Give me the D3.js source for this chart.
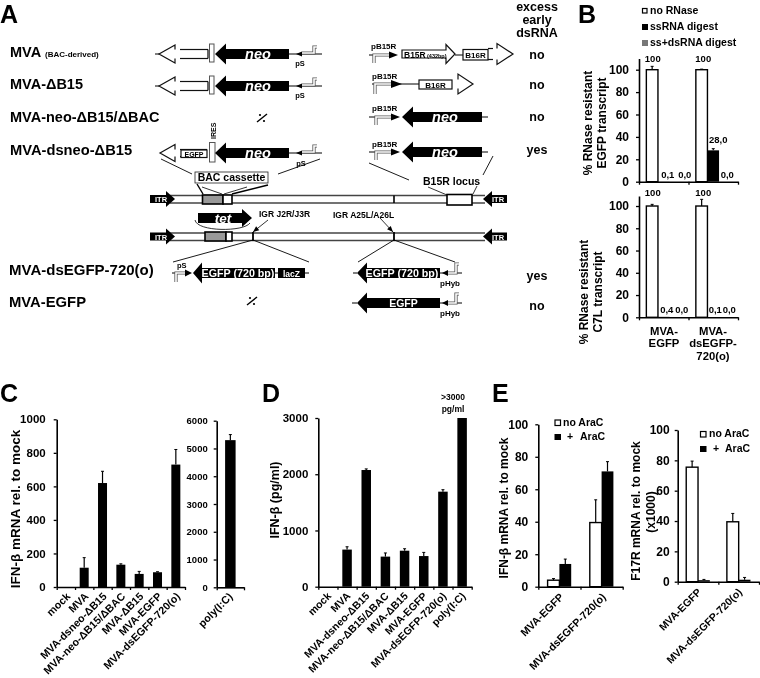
<!DOCTYPE html>
<html>
<head>
<meta charset="utf-8">
<script src="https://cdn.jsdelivr.net/npm/d3@7/dist/d3.min.js"></script>
<style>
body { margin: 0; background: #fff; }
svg { display: block; font-family: "Liberation Sans", Arial, sans-serif; font-weight: bold; filter: blur(0.3px); }
</style>
</head>
<body>
<svg id="fig" width="760" height="678"></svg>
<script>
// panel B
var transcriptGroups = ['MVA-EGFP', 'MVA-dsEGFP-720(o)'];
var egfpNoRNase = [100, 100];
var egfpNoRNaseErr = [3, 0.5];
var egfpSsDigest = [0.1, 28];
var egfpSsDigestErr = [0, 1.5];
var egfpDsDigest = [0, 0];
var egfpLabels = [['100', '0,1', '0,0'], ['100', '28,0', '0,0']];
var c7lNoRNase = [100, 100];
var c7lNoRNaseErr = [1.5, 6];
var c7lSsDigest = [0.4, 0.1];
var c7lDsDigest = [0, 0];
var c7lLabels = [['100', '0,4', '0,0'], ['100', '0,1', '0,0']];
var percentTicks = [0, 20, 40, 60, 80, 100];

// panel C
var virusC = ['mock', 'MVA', 'MVA-dsneo-ΔB15', 'MVA-neo-ΔB15/ΔBAC', 'MVA-ΔB15', 'MVA-EGFP', 'MVA-dsEGFP-720(o)'];
var ifnMrna = [0, 115, 620, 133, 78, 88, 730];
var ifnMrnaErr = [0, 60, 70, 5, 15, 3, 90];
var ifnMrnaTicks = [0, 200, 400, 600, 800, 1000];
var polyCat = ['poly(I:C)'];
var polyMrna = [5300];
var polyMrnaErr = [200];
var polyTicks = [0, 1000, 2000, 3000, 4000, 5000, 6000];

// panel D
var virusD = ['mock', 'MVA', 'MVA-dsneo-ΔB15', 'MVA-neo-ΔB15/ΔBAC', 'MVA-ΔB15', 'MVA-EGFP', 'MVA-dsEGFP-720(o)', 'poly(I:C)'];
var ifnProtein = [0, 660, 2075, 535, 640, 545, 1690, 3000];
var ifnProteinErr = [0, 50, 20, 65, 35, 65, 35, 0];
var ifnProteinTicks = [0, 1000, 2000, 3000];

// panel E
var ifnNoAraC = [4, 39.5];
var ifnNoAraCErr = [1, 14];
var ifnAraC = [14, 71];
var ifnAraCErr = [3, 6];
var f17NoAraC = [75.5, 39.5];
var f17NoAraCErr = [4, 5.5];
var f17AraC = [1, 1.3];
var f17AraCErr = [0.5, 1.5];

var svg = d3.select('#fig');

function label(x, y, str, size, opts)
{
	opts = opts || {};
	return svg.append('text')
		.attr('x', x)
		.attr('y', y)
		.attr('font-size', size)
		.attr('text-anchor', opts.anchor || 'start')
		.attr('fill', opts.fill || '#000')
		.attr('font-style', opts.italic ? 'italic' : null)
		.text(str);
}

function vlabel(x, y, str, size)
{
	svg.append('text')
		.attr('transform', 'translate(' + x + ',' + y + ') rotate(-90)')
		.attr('font-size', size)
		.attr('text-anchor', 'middle')
		.text(str);
}

function line(x1, y1, x2, y2, width, colour)
{
	svg.append('line')
		.attr('x1', x1).attr('y1', y1)
		.attr('x2', x2).attr('y2', y2)
		.attr('stroke', colour || '#000')
		.attr('stroke-width', width || 1);
}

function box(x1, y1, x2, y2, fill, stroke, width)
{
	svg.append('rect')
		.attr('x', x1).attr('y', y1)
		.attr('width', x2 - x1).attr('height', y2 - y1)
		.attr('fill', fill)
		.attr('stroke', stroke || 'none')
		.attr('stroke-width', width || 1);
}

// block arrow: tip at x tip, head base at base, tail end at tail
function blockArrow(tip, base, tail, y, bodyH, headH, fill, stroke)
{
	var pts = [[tip, y], [base, y - headH / 2], [base, y - bodyH / 2], [tail, y - bodyH / 2],
		[tail, y + bodyH / 2], [base, y + bodyH / 2], [base, y + headH / 2]];
	svg.append('path')
		.attr('d', d3.line()(pts) + 'Z')
		.attr('fill', fill)
		.attr('stroke', stroke || 'none')
		.attr('stroke-width', 1.2);
}

// white arrow with its body cut open near the head
function openArrow(tip, base, gap, tail, y, bodyH, headH)
{
	var upper = [[gap, y - bodyH / 2], [tail, y - bodyH / 2]];
	var lower = [[gap, y + bodyH / 2], [tail, y + bodyH / 2]];
	var head = [[base, y - bodyH / 2], [base, y - headH / 2], [tip, y], [base, y + headH / 2], [base, y + bodyH / 2]];
	[upper, lower, head].forEach(pts => {
		svg.append('path').attr('d', d3.line()(pts))
			.attr('fill', 'none').attr('stroke', '#111').attr('stroke-width', 1.2);
	});
}

// bent gray promoter arrow
function promoter(pts)
{
	svg.append('path').attr('d', d3.line()(pts)).attr('fill', 'none').attr('stroke', '#555').attr('stroke-width', 3.2);
	svg.append('path').attr('d', d3.line()(pts)).attr('fill', 'none').attr('stroke', '#fff').attr('stroke-width', 1.6);
}

function triangle(tip, base, y, h)
{
	svg.append('path')
		.attr('d', d3.line()([[tip, y], [base, y - h / 2], [base, y + h / 2]]) + 'Z')
		.attr('fill', '#000');
}

function noConstruct(x, y)
{
	line(x - 5, y + 4, x + 5, y - 4, 1.4);
	svg.append('circle').attr('cx', x - 2).attr('cy', y - 3).attr('r', 1.1);
	svg.append('circle').attr('cx', x + 2).attr('cy', y + 3).attr('r', 1.1);
}

function pointer(x1, y1, x2, y2)
{
	var a = Math.atan2(y2 - y1, x2 - x1);
	line(x1, y1, x2, y2, 0.8);
	var b = [x2 - 6 * Math.cos(a), y2 - 6 * Math.sin(a)];
	var n = [-2.5 * Math.sin(a), 2.5 * Math.cos(a)];
	svg.append('path')
		.attr('d', d3.line()([[x2, y2], [b[0] + n[0], b[1] + n[1]], [b[0] - n[0], b[1] - n[1]]]) + 'Z');
}

function neoLeft(y)
{
	blockArrow(215, 226, 289, y, 10, 21, '#000');
	label(258, y + 5, 'neo', 14.5, {anchor: 'middle', fill: '#fff', italic: true});
	line(289, y, 322, y, 1);
	promoter([[302, y - 1], [314, y - 1], [314, y - 7], [317, y - 7]]);
	triangle(296, 302, y, 5);
}

function oldGene(y)
{
	openArrow(159, 175, 180, 208, y, 9, 18);
	line(208, y - 4.5, 208, y + 4.5, 1.2);
	box(209.5, y - 10, 214, y + 8, '#fff', '#555', 1);
	line(155, y, 159, y, 1);
	neoLeft(y);
}

function neoRight(y)
{
	line(369, y, 391, y, 1);
	promoter([[376, y + 8], [376, y], [391, y]]);
	triangle(400, 391, y, 7);
	blockArrow(402, 413, 482, y, 10, 21, '#000');
	label(445, y + 5, 'neo', 14.5, {anchor: 'middle', fill: '#fff', italic: true});
	line(482, y, 488, y, 1);
}

function itrLeft(y)
{
	blockArrow(175, 166, 150, y, 8, 16, '#000');
	label(155, y + 3, 'ITR', 7.5, {fill: '#fff'});
}

function itrRight(y)
{
	blockArrow(483, 492, 507, y, 8, 16, '#000');
	label(492, y + 3, 'ITR', 7.5, {fill: '#fff'});
}

function hybrid(y)
{
	line(440, y, 462, y, 1);
	promoter([[447, y], [456, y], [456, y - 9], [459, y - 9]]);
	triangle(442, 448, y, 6);
}

function schematic()
{
	label(0, 23, 'A', 25);

	// row labels
	label(10, 57, 'MVA', 14.5);
	label(45, 57, '(BAC-derived)', 8);
	label(10, 89, 'MVA-ΔB15', 14.5);
	label(10, 122, 'MVA-neo-ΔB15/ΔBAC', 14.5);
	label(10, 155, 'MVA-dsneo-ΔB15', 14.7);
	label(9, 275, 'MVA-dsEGFP-720(o)', 15);
	label(9, 307, 'MVA-EGFP', 14.8);

	// excess column
	[['excess', 11], ['early', 24], ['dsRNA', 37], ['no', 59], ['no', 89], ['no', 121], ['yes', 154], ['yes', 280], ['no', 310]]
		.forEach(d => label(537, d[1], d[0], 12.5, {anchor: 'middle'}));

	// left constructs
	oldGene(54);
	label(300, 66, 'pS', 7.5, {anchor: 'middle'});
	oldGene(86);
	label(300, 98, 'pS', 7.5, {anchor: 'middle'});
	noConstruct(262, 118);

	openArrow(160, 175, 180, 207, 153, 7, 17);
	box(181, 150, 207, 157.5, '#fff', '#111', 1.2);
	label(194, 156.5, 'EGFP', 7, {anchor: 'middle'});
	box(209.5, 142.5, 215, 162, '#fff', '#555', 1);
	neoLeft(153);
	label(301, 166, 'pS', 7.5, {anchor: 'middle'});
	svg.append('text').attr('transform', 'translate(216,139) rotate(-90)').attr('font-size', 7).text('IRES');

	// right constructs
	line(369, 55, 389, 55, 1);
	label(371, 49, 'pB15R', 8);
	promoter([[374, 63], [374, 55], [389, 55]]);
	triangle(398, 389, 55, 7);
	blockArrow(455, 446, 402, 54, 8, 19, '#fff', '#111');
	label(404, 58, 'B15R', 8.5);
	label(427, 58, '(432bp)', 5.5);
	line(455, 55, 463, 55, 1);
	box(463, 49.5, 488, 60, '#fff', '#111', 1.2);
	label(475.5, 58, 'B16R', 8, {anchor: 'middle'});
	openArrow(513, 497, 493, 488, 54, 11, 21);

	line(372, 84, 419, 84, 1);
	label(372, 79, 'pB15R', 8);
	promoter([[375, 94], [375, 84], [391, 84]]);
	triangle(402, 391, 84, 8);
	box(419, 80, 452, 89, '#fff', '#111', 1.2);
	label(435.5, 88, 'B16R', 8, {anchor: 'middle'});
	openArrow(473, 458, 452, 452, 84, 9, 20);

	label(372, 111, 'pB15R', 8);
	neoRight(117);
	label(372, 147, 'pB15R', 8);
	neoRight(152);

	// cassette and locus call-outs
	line(161, 159, 192, 174, 0.9);
	line(320, 159, 278, 174, 0.9);
	line(369, 163, 409, 180, 0.9);
	line(493, 156, 483, 175, 0.9);
	line(197, 184, 203, 194, 1.4);
	line(202, 187, 222, 194, 0.8);
	line(247, 187, 224, 194, 0.8);
	line(268, 185, 232, 194, 1.6);
	line(428, 187, 447, 195, 0.8);
	line(473, 194, 477, 186, 0.8);
	box(195, 172, 268, 183, '#fff', '#222', 0.8);
	label(231.5, 181, 'BAC cassette', 10.5, {anchor: 'middle'});
	label(423, 185, 'B15R locus', 10.5);

	// genome, top
	[195.5, 203].forEach(y => line(170, y, 485, y, 1.4, '#444'));
	box(202.5, 195, 223, 204, '#999', '#000', 1.6);
	box(223, 195, 232, 204, '#fff', '#000', 1.6);
	line(394, 195.5, 394, 203, 1.6);
	box(447, 194.5, 472, 205, '#fff', '#000', 1.6);
	itrLeft(199);
	itrRight(199);

	// genome, bottom
	[233, 240.5].forEach(y => line(170, y, 485, y, 1.4, '#444'));
	box(205, 232, 226, 241, '#999', '#000', 1.6);
	box(226, 232, 232, 241, '#fff', '#000', 1.6);
	line(253, 232, 253, 241, 1.8);
	line(394, 232, 394, 241, 1.8);
	itrLeft(236.5);
	itrRight(236.5);

	// tet insert
	svg.append('path')
		.attr('d', 'M195,220C197,232 244,232 250,223')
		.attr('fill', 'none').attr('stroke', '#000').attr('stroke-width', 0.8);
	blockArrow(252, 242, 198, 218, 10, 18, '#000');
	label(223, 223, 'tet', 13.5, {anchor: 'middle', fill: '#fff', italic: true});
	label(259, 217, 'IGR J2R/J3R', 8.5);
	label(333, 218, 'IGR A25L/A26L', 8.5);
	pointer(268, 220, 253, 232);
	pointer(380, 218, 393, 232);

	// lines down to the inserts
	line(253, 240, 173, 262, 0.9);
	line(253, 240, 309, 262, 0.9);
	line(394, 240, 358, 262, 0.9);
	line(394, 240, 455, 262, 0.9);

	// dsEGFP inserts
	line(172, 273, 185, 273, 1);
	promoter([[176, 282], [176, 273], [185, 273]]);
	label(177, 268, 'pS', 7.5);
	triangle(192, 185, 273, 7);
	blockArrow(193, 202, 275, 273, 10, 21, '#000');
	label(238, 277, 'EGFP (720 bp)', 10.7, {anchor: 'middle', fill: '#fff'});
	line(275, 273, 278, 273, 1);
	box(278, 268, 305, 278, '#000');
	label(291.5, 276.5, 'lacZ', 8.5, {anchor: 'middle', fill: '#fff'});
	line(305, 273, 309, 273, 1);

	line(353, 273, 357, 273, 1);
	blockArrow(357, 367, 440, 273, 10, 21, '#000');
	label(402, 277, 'EGFP (720 bp)', 10.7, {anchor: 'middle', fill: '#fff'});
	hybrid(273);
	label(440, 286, 'pHyb', 8);

	noConstruct(252, 301);
	line(352, 303, 357, 303, 1);
	blockArrow(357, 367, 440, 303, 10, 21, '#000');
	label(403.5, 307, 'EGFP', 10.5, {anchor: 'middle', fill: '#fff'});
	hybrid(303);
	label(440, 316, 'pHyb', 8);
}

// bars and their error whiskers for one series of a panel
function drawBars(x, y, names, vals, errs, fill, width, offset)
{
	var g = svg.append('g');
	var centre = i => x(names[i]) + x.bandwidth() / 2 + offset;
	g.selectAll('rect').data(vals).join('rect')
		.attr('x', (d, i) => centre(i) - width / 2)
		.attr('y', d => y(d))
		.attr('width', width)
		.attr('height', d => y(0) - y(d))
		.attr('fill', fill)
		.attr('stroke', d => d > 0 ? '#000' : 'none')
		.attr('stroke-width', fill === '#000' ? 0 : 1.4);
	if (errs)
	{
		g.selectAll('line').data(errs).join('line')
			.attr('x1', (d, i) => centre(i))
			.attr('x2', (d, i) => centre(i))
			.attr('y1', (d, i) => y(vals[i]))
			.attr('y2', (d, i) => y(vals[i] + d))
			.attr('stroke', '#000')
			.attr('stroke-width', 1.2);
		g.selectAll('path').data(errs).join('path')
			.attr('d', (d, i) => d > 0 ? 'M' + (centre(i) - 1.5) + ',' + y(vals[i] + d) + 'H' + (centre(i) + 1.5) : '')
			.attr('stroke', '#000')
			.attr('stroke-width', 1);
	}
}

function axes(names, ticks, max, xr, yr, tickFont, tickGap)
{
	var x = d3.scaleBand().domain(names).range(xr);
	var y = d3.scaleLinear().domain([0, max]).range(yr);

	var yAxis = svg.append('g')
		.attr('transform', 'translate(' + xr[0] + ',0)')
		.call(d3.axisLeft(y).tickValues(ticks).tickSize(3).tickSizeOuter(0).tickPadding(tickGap - 3).tickFormat(d3.format('d')));
	yAxis.selectAll('text').attr('font-size', tickFont).attr('fill', '#000');

	var edge = d3.scaleLinear().domain([0, names.length]).range(xr);
	svg.append('g')
		.attr('transform', 'translate(0,' + yr[0] + ')')
		.call(d3.axisBottom(edge).tickValues(d3.range(names.length + 1)).tickSize(3).tickSizeOuter(0).tickFormat(''));

	svg.selectAll('.domain').attr('stroke-width', 1.6);
	svg.selectAll('.tick line').attr('stroke-width', 1.3);
	svg.selectAll('g[font-family]').attr('font-family', null);
	return {x: x, y: y};
}

function slantLabels(s, names, size, dx, dy)
{
	svg.append('g').selectAll('text').data(names).join('text')
		.attr('transform', d => 'translate(' + (s.x(d) + s.x.bandwidth() / 2 + dx) + ',' + (s.y(0) + dy) + ') rotate(-45)')
		.attr('font-size', size)
		.attr('text-anchor', 'end')
		.text(d => d);
}

// value captions above the bars of panel B, offsets from the group centre
function barLabels(s, names, texts, offsets, top, low)
{
	names.forEach((name, i) => {
		var cx = s.x(name) + s.x.bandwidth() / 2;
		label(cx + offsets[i][0], top, texts[i][0], 9.5, {anchor: 'middle'});
		label(cx + offsets[i][1], i === 1 && texts[i][1] === '28,0' ? s.y(28) - 7 : low, texts[i][1], 9.5, {anchor: 'middle'});
		label(cx + offsets[i][2], low, texts[i][2], 9.5, {anchor: 'middle'});
	});
}

function panelB()
{
	label(578, 23, 'B', 25);
	box(642.5, 8.5, 647, 13, '#fff', '#000', 1.2);
	label(650, 13.5, 'no RNase', 10.5);
	box(642, 24, 648, 30, '#000');
	label(650, 30, 'ssRNA digest', 10.5);
	box(642, 40, 648, 46, '#777');
	label(650, 46, 'ss+dsRNA digest', 10.5);

	var barW = 11.6;
	var s1 = axes(transcriptGroups, percentTicks, 110, [639, 738], [181.7, 58.5], 12, 10);
	drawBars(s1.x, s1.y, transcriptGroups, egfpNoRNase, egfpNoRNaseErr, '#fff', barW, -barW);
	drawBars(s1.x, s1.y, transcriptGroups, egfpSsDigest, egfpSsDigestErr, '#000', barW, 0);
	drawBars(s1.x, s1.y, transcriptGroups, egfpDsDigest, null, '#777', barW, barW);
	barLabels(s1, transcriptGroups, egfpLabels, [[-11, 4, 21], [-10, 5, 14]], 62, 177.5);
	vlabel(592, 123, '% RNase resistant', 12);
	vlabel(606, 123, 'EGFP transcript', 12);

	var s2 = axes(transcriptGroups, percentTicks, 109, [639, 738], [317.3, 196], 12, 10);
	drawBars(s2.x, s2.y, transcriptGroups, c7lNoRNase, c7lNoRNaseErr, '#fff', barW, -barW);
	drawBars(s2.x, s2.y, transcriptGroups, c7lSsDigest, null, '#000', barW, 0);
	drawBars(s2.x, s2.y, transcriptGroups, c7lDsDigest, null, '#777', barW, barW);
	barLabels(s2, transcriptGroups, c7lLabels, [[-11, 3, 18], [-10, 2, 16]], 196, 313);
	vlabel(588, 292, '% RNase resistant', 12);
	vlabel(602, 292, 'C7L transcript', 12);

	[['MVA-', 664, 335], ['EGFP', 664, 347], ['MVA-', 713, 335], ['dsEGFP-', 713, 347], ['720(o)', 713, 360]]
		.forEach(d => label(d[1], d[2], d[0], 11.3, {anchor: 'middle'}));
}

function panelC()
{
	label(0, 402, 'C', 25);
	var s = axes(virusC, ifnMrnaTicks, 1000, [56.7, 185], [587, 419.3], 11.5, 11);
	drawBars(s.x, s.y, virusC, ifnMrna, ifnMrnaErr, '#000', 9, 0);
	slantLabels(s, virusC, 10.7, 5, 10);
	vlabel(20, 509, 'IFN-β mRNA rel. to mock', 13.5);

	var p = axes(polyCat, polyTicks, 6000, [216.7, 244], [587.3, 420.7], 9.5, 9);
	drawBars(p.x, p.y, polyCat, polyMrna, polyMrnaErr, '#000', 10.5, 0);
	slantLabels(p, polyCat, 10.7, 3, 10);
}

function panelD()
{
	label(262, 402, 'D', 25);
	var s = axes(virusD, ifnProteinTicks, 3000, [318.3, 471.7], [586.7, 418], 11.5, 10);
	drawBars(s.x, s.y, virusD, ifnProtein, ifnProteinErr, '#000', 9.5, 0);
	slantLabels(s, virusD, 10.5, 4, 10);
	vlabel(279, 500, 'IFN-β (pg/ml)', 12.5);
	label(453, 400, '>3000', 8.5, {anchor: 'middle'});
	label(453, 412, 'pg/ml', 8.5, {anchor: 'middle'});
}

function panelE()
{
	label(492, 402, 'E', 25);
	var barW = 11.8;
	var s1 = axes(transcriptGroups, percentTicks, 100, [538.3, 622.7], [586.7, 424.3], 12, 10);
	drawBars(s1.x, s1.y, transcriptGroups, ifnNoAraC, ifnNoAraCErr, '#fff', barW, -barW / 2);
	drawBars(s1.x, s1.y, transcriptGroups, ifnAraC, ifnAraCErr, '#000', barW, barW / 2);
	slantLabels(s1, transcriptGroups, 10.7, 5, 11);
	vlabel(508, 508, 'IFN-β mRNA rel. to mock', 12);
	box(555, 420, 560.5, 425.5, '#fff', '#000', 1.2);
	label(563, 426, 'no AraC', 10.5);
	box(554.5, 434, 561, 440, '#000');
	label(567, 440, '+', 10.5);
	label(580, 440, 'AraC', 10.5);

	var s2 = axes(transcriptGroups, percentTicks, 100, [677.7, 759], [581.7, 430], 12, 8);
	drawBars(s2.x, s2.y, transcriptGroups, f17NoAraC, f17NoAraCErr, '#fff', barW, -barW / 2);
	drawBars(s2.x, s2.y, transcriptGroups, f17AraC, f17AraCErr, '#000', barW, barW / 2);
	slantLabels(s2, transcriptGroups, 10.5, 4, 11);
	vlabel(640, 511, 'F17R mRNA rel. to mock', 12);
	vlabel(655, 512, '(x1000)', 12);
	box(700.5, 431.5, 706, 437, '#fff', '#000', 1.2);
	label(709, 437, 'no AraC', 10.5);
	box(700, 446, 706.5, 452, '#000');
	label(713, 452, '+', 10.5);
	label(725, 452, 'AraC', 10.5);
}

schematic();
panelB();
panelC();
panelD();
panelE();
</script>
</body>
</html>
